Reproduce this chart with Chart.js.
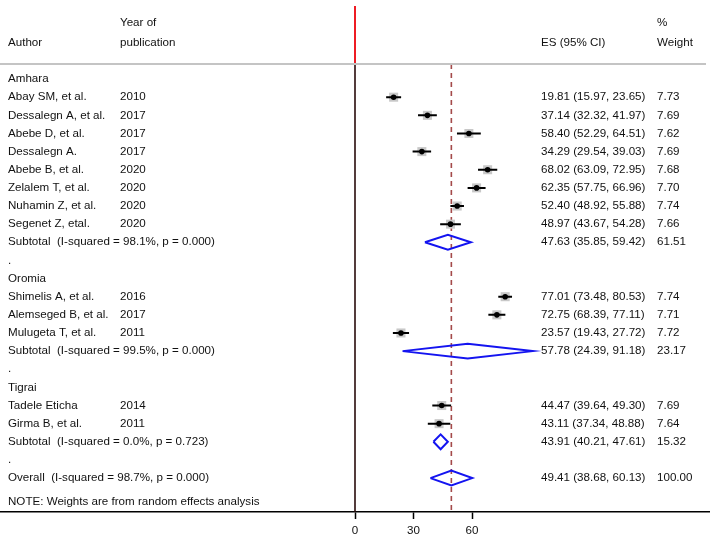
<!DOCTYPE html>
<html>
<head>
<meta charset="utf-8">
<title>Forest plot</title>
<script src="https://cdn.jsdelivr.net/npm/chart.js@4.4.1/dist/chart.umd.min.js"></script>
<style>
  html, body { margin: 0; padding: 0; background: #fff; }
  #wrap { width: 710px; height: 538px; position: relative; }
</style>
</head>
<body>
<div id="wrap"><canvas id="forest"></canvas></div>
<script>
/* Forest plot — prevalence by region, random effects */

// ── Data ─────────────────────────────────────────
const groupNames = ['Amhara', 'Oromia', 'Tigrai'];

const studyAuthors = [
  'Abay SM, et al.', 'Dessalegn A, et al.', 'Abebe D, et al.', 'Dessalegn A.',
  'Abebe B, et al.', 'Zelalem T, et al.', 'Nuhamin Z, et al.', 'Segenet Z, etal.',
  'Shimelis A, et al.', 'Alemseged B, et al.', 'Mulugeta T, et al.',
  'Tadele Eticha', 'Girma B, et al.'
];
const studyYears = [2010, 2017, 2017, 2017, 2020, 2020, 2020, 2020, 2016, 2017, 2011, 2014, 2011];
const studyGroup = [0, 0, 0, 0, 0, 0, 0, 0, 1, 1, 1, 2, 2];
const studyES = [19.81, 37.14, 58.40, 34.29, 68.02, 62.35, 52.40, 48.97, 77.01, 72.75, 23.57, 44.47, 43.11];
const studyLo = [15.97, 32.32, 52.29, 29.54, 63.09, 57.75, 48.92, 43.67, 73.48, 68.39, 19.43, 39.64, 37.34];
const studyHi = [23.65, 41.97, 64.51, 39.03, 72.95, 66.96, 55.88, 54.28, 80.53, 77.11, 27.72, 49.30, 48.88];
const studyWeight = [7.73, 7.69, 7.62, 7.69, 7.68, 7.70, 7.74, 7.66, 7.74, 7.71, 7.72, 7.69, 7.64];

const subI2 = [98.1, 99.5, 0.0];
const subP = [0.000, 0.000, 0.723];
const subES = [47.63, 57.78, 43.91];
const subLo = [35.85, 24.39, 40.21];
const subHi = [59.42, 91.18, 47.61];
const subWeight = [61.51, 23.17, 15.32];

const overallI2 = 98.7;
const overallP = 0.000;
const overallES = 49.41;
const overallLo = 38.68;
const overallHi = 60.13;
const overallWeight = 100.00;

const xTicks = [0, 30, 60];

// ── Layout constants ─────────────────────────────
const FONT = '11.6px "Liberation Sans", Arial, sans-serif';
const X_HALF = 182.05;     // x range either side of 0
const Y_MIN = -0.83;       // row units
const Y_MAX = 23.87;
const NOTE_ROW = 23.3;
const DIAMOND_H = 0.41;
const COL = { author: 8, year: 120, es: 541, weight: 657 };

// ── Helpers ──────────────────────────────────────
const f2 = (v) => v.toFixed(2);
const esText = (es, lo, hi) => `${f2(es)} (${f2(lo)}, ${f2(hi)})`;
const hetText = (i2, p) => `(I-squared = ${i2.toFixed(1)}%, p = ${p.toFixed(3)})`;

// assign rows: group title, studies, subtotal, spacer dot
const groupRow = [];
const subRow = [];
const dotRows = [];
const studyRow = [];
let r = 0;
groupNames.forEach((g, gi) => {
  groupRow[gi] = r++;
  studyGroup.forEach((sg, i) => { if (sg === gi) studyRow[i] = r++; });
  subRow[gi] = r++;
  dotRows.push(r++);
});
const overallRow = r;

const GAP = { x: NaN, y: NaN };

const ciData = [];
studyES.forEach((_, i) => {
  ciData.push({ x: studyLo[i], y: studyRow[i] }, { x: studyHi[i], y: studyRow[i] }, GAP);
});

function diamond(es, lo, hi, row) {
  return [
    { x: lo, y: row }, { x: es, y: row - DIAMOND_H },
    { x: hi, y: row }, { x: es, y: row + DIAMOND_H },
    { x: lo, y: row }, GAP
  ];
}
let diamondData = [];
subES.forEach((es, gi) => {
  diamondData = diamondData.concat(diamond(es, subLo[gi], subHi[gi], subRow[gi]));
});
diamondData = diamondData.concat(diamond(overallES, overallLo, overallHi, overallRow));

const pointData = studyES.map((es, i) => ({ x: es, y: studyRow[i] }));

// ── Text / decoration plugin ─────────────────────
const tablePlugin = {
  id: 'forestTable',
  afterDraw(chart) {
    const { ctx, chartArea, scales } = chart;
    const x = scales.x;
    const y = scales.y;
    const rowY = (row) => y.getPixelForValue(row);

    ctx.save();

    // header rule
    ctx.strokeStyle = '#c4c4c4';
    ctx.lineWidth = 2;
    ctx.beginPath();
    ctx.moveTo(0, chartArea.top);
    ctx.lineTo(706, chartArea.top);
    ctx.stroke();

    // red null line in header band
    ctx.strokeStyle = '#ee1c24';
    ctx.lineWidth = 2;
    ctx.beginPath();
    ctx.moveTo(x.getPixelForValue(0), 6);
    ctx.lineTo(x.getPixelForValue(0), chartArea.top - 1);
    ctx.stroke();

    ctx.font = FONT;
    ctx.fillStyle = '#111';
    ctx.textBaseline = 'middle';
    ctx.textAlign = 'left';

    const h1 = chartArea.top - 41;
    const h2 = chartArea.top - 21;
    ctx.fillText('Year of', COL.year, h1);
    ctx.fillText('%', COL.weight, h1);
    ctx.fillText('Author', COL.author, h2);
    ctx.fillText('publication', COL.year, h2);
    ctx.fillText('ES (95% CI)', COL.es, h2);
    ctx.fillText('Weight', COL.weight, h2);

    groupNames.forEach((g, gi) => {
      ctx.fillText(g, COL.author, rowY(groupRow[gi]));
      ctx.fillText('Subtotal  ' + hetText(subI2[gi], subP[gi]), COL.author, rowY(subRow[gi]));
      ctx.fillText(esText(subES[gi], subLo[gi], subHi[gi]), COL.es, rowY(subRow[gi]));
      ctx.fillText(f2(subWeight[gi]), COL.weight, rowY(subRow[gi]));
    });
    dotRows.forEach((dr) => ctx.fillText('.', COL.author, rowY(dr)));

    studyAuthors.forEach((a, i) => {
      const yy = rowY(studyRow[i]);
      ctx.fillText(a, COL.author, yy);
      ctx.fillText(String(studyYears[i]), COL.year, yy);
      ctx.fillText(esText(studyES[i], studyLo[i], studyHi[i]), COL.es, yy);
      ctx.fillText(f2(studyWeight[i]), COL.weight, yy);
    });

    ctx.fillText('Overall  ' + hetText(overallI2, overallP), COL.author, rowY(overallRow));
    ctx.fillText(esText(overallES, overallLo, overallHi), COL.es, rowY(overallRow));
    ctx.fillText(f2(overallWeight), COL.weight, rowY(overallRow));

    ctx.fillText('NOTE: Weights are from random effects analysis', COL.author, rowY(NOTE_ROW));

    ctx.restore();
  }
};

// ── Chart ────────────────────────────────────────
new Chart(document.getElementById('forest'), {
  type: 'scatter',
  data: {
    datasets: [
      {
        label: 'overall',
        data: [{ x: overallES, y: Y_MIN }, { x: overallES, y: Y_MAX }],
        showLine: true,
        borderColor: '#a44a4a',
        borderWidth: 1.6,
        borderDash: [5, 4],
        pointRadius: 0,
        order: 6
      },
      {
        label: 'null',
        data: [{ x: 0, y: Y_MIN }, { x: 0, y: Y_MAX }],
        showLine: true,
        borderColor: '#2a0c0c',
        borderWidth: 1.6,
        pointRadius: 0,
        order: 5
      },
      {
        label: 'weights',
        data: pointData,
        pointStyle: 'rect',
        pointRadius: studyWeight.map((w) => 2.3 * Math.sqrt(w)),
        backgroundColor: '#c8c8c8',
        borderWidth: 0,
        order: 4
      },
      {
        label: 'ci',
        data: ciData,
        showLine: true,
        borderColor: '#000',
        borderWidth: 2,
        pointRadius: 0,
        order: 3
      },
      {
        label: 'es',
        data: pointData,
        pointStyle: 'circle',
        pointRadius: 2.8,
        backgroundColor: '#000',
        borderWidth: 0,
        order: 2
      },
      {
        label: 'pooled',
        data: diamondData,
        showLine: true,
        borderColor: '#1414f0',
        borderWidth: 2,
        pointRadius: 0,
        order: 1
      }
    ]
  },
  options: {
    responsive: true,
    maintainAspectRatio: false,
    animation: false,
    layout: { autoPadding: false, padding: { top: 64, bottom: 0, left: 0, right: 0 } },
    plugins: {
      legend: { display: false },
      tooltip: { enabled: false }
    },
    scales: {
      x: {
        type: 'linear',
        min: -X_HALF,
        max: X_HALF,
        afterBuildTicks: (axis) => { axis.ticks = xTicks.map((v) => ({ value: v })); },
        afterFit: (axis) => { axis.height = 26; },
        grid: {
          drawOnChartArea: false,
          drawTicks: true,
          tickLength: 7,
          tickColor: '#000',
          tickWidth: 1.5
        },
        border: { display: true, color: '#000', width: 1.5 },
        ticks: {
          color: '#111',
          padding: 5,
          maxRotation: 0,
          autoSkip: false,
          font: { family: '"Liberation Sans", Arial, sans-serif', size: 11.6 }
        }
      },
      y: {
        type: 'linear',
        display: false,
        reverse: true,
        min: Y_MIN,
        max: Y_MAX
      }
    }
  },
  plugins: [tablePlugin]
});
</script>
</body>
</html>
